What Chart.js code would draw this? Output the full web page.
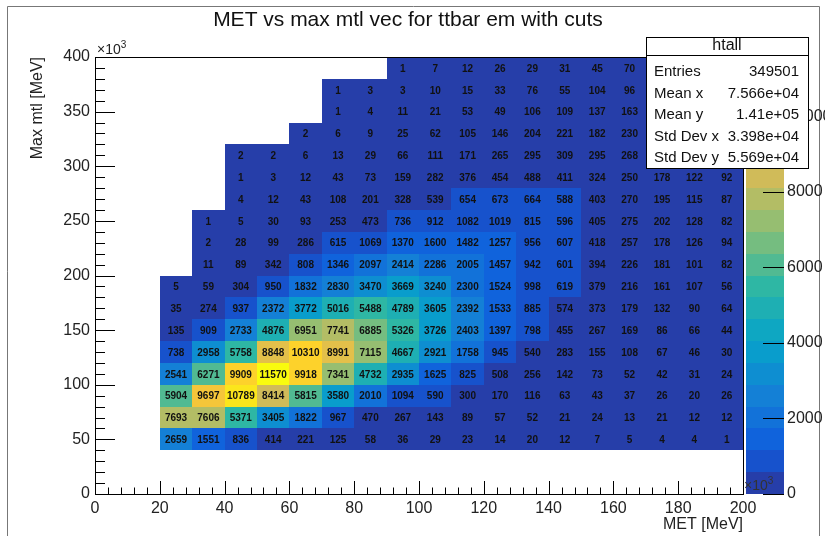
<!DOCTYPE html>
<html>
<head>
<meta charset="utf-8">
<script src="https://cdn.jsdelivr.net/npm/chart.js@4"></script>
<style>
  body { margin: 0; background: #fff; }
  canvas { display: block; }
</style>
</head>
<body>
<canvas id="h2" width="825" height="536"></canvas>
<script>
// MET (x) vs max mtl (y), both x10^3 MeV, bins of 10 in x and 20 in y
const binW = 10, binH = 20;
const yCenters = [50, 70, 90, 110, 130, 150, 170, 190, 210, 230, 250, 270, 290, 310, 330, 350, 370, 390];
// first filled MET bin centre for each row
const rowStart = [25, 25, 25, 25, 25, 25, 25, 25, 35, 35, 35, 45, 45, 45, 65, 75, 75, 95];
const counts = [
  [2659, 1551, 836, 414, 221, 125, 58, 36, 29, 23, 14, 20, 12, 7, 5, 4, 4, 1],
  [7693, 7606, 5371, 3405, 1822, 967, 470, 267, 143, 89, 57, 52, 21, 24, 13, 21, 12, 12],
  [5904, 9697, 10789, 8414, 5815, 3580, 2010, 1094, 590, 300, 170, 116, 63, 43, 37, 26, 20, 26],
  [2541, 6271, 9909, 11570, 9918, 7341, 4732, 2935, 1625, 825, 508, 256, 142, 73, 52, 42, 31, 24],
  [738, 2958, 5758, 8848, 10310, 8991, 7115, 4667, 2921, 1758, 945, 540, 283, 155, 108, 67, 46, 30],
  [135, 909, 2733, 4876, 6951, 7741, 6885, 5326, 3726, 2403, 1397, 798, 455, 267, 169, 86, 66, 44],
  [35, 274, 937, 2372, 3772, 5016, 5488, 4789, 3605, 2392, 1533, 885, 574, 373, 179, 132, 90, 64],
  [5, 59, 304, 950, 1832, 2830, 3470, 3669, 3240, 2300, 1524, 998, 619, 379, 216, 161, 107, 56],
  [11, 89, 342, 808, 1346, 2097, 2414, 2286, 2005, 1457, 942, 601, 394, 226, 181, 101, 82],
  [2, 28, 99, 286, 615, 1069, 1370, 1600, 1482, 1257, 956, 607, 418, 257, 178, 126, 94],
  [1, 5, 30, 93, 253, 473, 736, 912, 1082, 1019, 815, 596, 405, 275, 202, 128, 82],
  [4, 12, 43, 108, 201, 328, 539, 654, 673, 664, 588, 403, 270, 195, 115, 87],
  [1, 3, 12, 43, 73, 159, 282, 376, 454, 488, 411, 324, 250, 178, 122, 92],
  // last bins of the rows below sit under the stats box (estimated)
  [2, 2, 6, 13, 29, 66, 111, 171, 265, 295, 309, 295, 268, 200, 150, 100],
  [2, 6, 9, 25, 62, 105, 146, 204, 221, 182, 230, 170, 130, 90],
  [1, 4, 11, 21, 53, 49, 106, 109, 137, 163, 130, 100, 70],
  [1, 3, 3, 10, 15, 33, 76, 55, 104, 96, 90, 70, 50],
  [1, 7, 12, 26, 29, 31, 45, 70, 60, 50, 35]
];
const xTicks = [0, 20, 40, 60, 80, 100, 120, 140, 160, 180, 200];
const yTicks = [0, 50, 100, 150, 200, 250, 300, 350, 400];
const zTicks = [0, 2000, 4000, 6000, 8000, 10000];
const zMax = 11570, nCont = 20;
const statLabels = ["Entries", "Mean x", "Mean y", "Std Dev x", "Std Dev y"];
const statValues = ["349501", "7.566e+04", "1.41e+05", "3.398e+04", "5.569e+04"];

// kBird palette
const stops = [0.0, 0.125, 0.25, 0.375, 0.5, 0.625, 0.75, 0.875, 1.0];
const red   = [0.2082, 0.0592, 0.0780, 0.0232, 0.1802, 0.5301, 0.8186, 0.9956, 0.9764];
const green = [0.1664, 0.3599, 0.5041, 0.6419, 0.7178, 0.7492, 0.7328, 0.7862, 0.9832];
const blue  = [0.5293, 0.8684, 0.8385, 0.7914, 0.6425, 0.4662, 0.3499, 0.1968, 0.0539];
function bird(f) {
  let i = 0;
  while (i < stops.length - 2 && f > stops[i + 1]) i++;
  const t = (f - stops[i]) / (stops[i + 1] - stops[i]);
  const c = a => Math.round(255 * (a[i] + (a[i + 1] - a[i]) * t));
  return `rgb(${c(red)},${c(green)},${c(blue)})`;
}
function bandColor(k) {
  return bird(Math.min(1, (k + 0.99) / nCont));
}
function cellColor(v) {
  let k = Math.floor(v / (zMax / nCont));
  if (k > nCont - 1) k = nCont - 1;
  return bandColor(k);
}

const cells = [];
counts.forEach((row, r) => {
  row.forEach((v, c) => {
    cells.push({ x: rowStart[r] + c * binW, y: yCenters[r], v: v });
  });
});

const FONT = '"Liberation Sans", Arial, sans-serif';

const th2Plugin = {
  id: 'th2',
  beforeDatasetsDraw(chart) {
    const ctx = chart.ctx, xs = chart.scales.x, ys = chart.scales.y;
    ctx.save();
    // cells
    chart.data.datasets[0].data.forEach(p => {
      const x0 = Math.round(xs.getPixelForValue(p.x - binW / 2));
      const x1 = Math.round(xs.getPixelForValue(p.x + binW / 2));
      const y0 = Math.round(ys.getPixelForValue(p.y + binH / 2));
      const y1 = Math.round(ys.getPixelForValue(p.y - binH / 2));
      ctx.fillStyle = cellColor(p.v);
      ctx.fillRect(x0, y0, x1 - x0, y1 - y0);
    });
    // numbers
    ctx.font = 'bold 10px ' + FONT;
    ctx.fillStyle = '#111';
    ctx.textAlign = 'center';
    ctx.textBaseline = 'middle';
    chart.data.datasets[0].data.forEach(p => {
      ctx.fillText(String(p.v), xs.getPixelForValue(p.x), ys.getPixelForValue(p.y) + 1);
    });
    ctx.restore();
  },
  afterDraw(chart) {
    const ctx = chart.ctx, xs = chart.scales.x, ys = chart.scales.y, zs = chart.scales.z;
    const a = chart.chartArea;
    ctx.save();

    // page border
    ctx.strokeStyle = '#777';
    ctx.lineWidth = 1;
    ctx.beginPath();
    ctx.moveTo(7.5, 536); ctx.lineTo(7.5, 6.5); ctx.lineTo(819.5, 6.5); ctx.lineTo(819.5, 536);
    ctx.stroke();

    // frame
    ctx.strokeStyle = '#000';
    ctx.strokeRect(a.left + 0.5, a.top + 0.5, a.right - a.left, a.bottom - a.top);

    // x ticks
    ctx.beginPath();
    for (let v = 0; v <= 200; v += 4) {
      const px = Math.round(xs.getPixelForValue(v)) + 0.5;
      const len = v % 20 === 0 ? 13 : 6.5;
      ctx.moveTo(px, a.bottom); ctx.lineTo(px, a.bottom - len);
    }
    // y ticks
    for (let v = 0; v <= 400; v += 10) {
      const py = Math.round(ys.getPixelForValue(v)) + 0.5;
      const len = v % 50 === 0 ? 20 : 10;
      ctx.moveTo(a.left, py); ctx.lineTo(a.left + len, py);
    }
    ctx.stroke();

    ctx.fillStyle = '#222';
    ctx.font = '16px ' + FONT;
    ctx.textAlign = 'center';
    ctx.textBaseline = 'top';
    xTicks.forEach(v => ctx.fillText(String(v), xs.getPixelForValue(v), a.bottom + 7));
    ctx.textAlign = 'right';
    ctx.textBaseline = 'middle';
    yTicks.forEach(v => ctx.fillText(String(v), a.left - 5, ys.getPixelForValue(v)));

    // x10^3 exponents
    const exp10 = (x, y) => {
      ctx.textAlign = 'left';
      ctx.textBaseline = 'alphabetic';
      ctx.font = '14px ' + FONT;
      ctx.fillText('\u00d710', x, y);
      const w = ctx.measureText('\u00d710').width;
      ctx.font = '10px ' + FONT;
      ctx.fillText('3', x + w, y - 6);
    };
    exp10(a.left + 2, a.top - 3);

    // axis titles
    ctx.font = '16px ' + FONT;
    ctx.textAlign = 'right';
    ctx.textBaseline = 'alphabetic';
    ctx.fillText('MET [MeV]', a.right, 529);
    ctx.save();
    ctx.translate(42, a.top);
    ctx.rotate(-Math.PI / 2);
    ctx.textAlign = 'right';
    ctx.fillText('Max mtl [MeV]', 0, 0);
    ctx.restore();

    // title
    ctx.font = '21px ' + FONT;
    ctx.textAlign = 'center';
    ctx.fillStyle = '#111';
    ctx.fillText('MET vs max mtl vec for ttbar em with cuts', 408, 26);

    // colour bar
    const cbL = 746, cbR = 784;
    for (let k = 0; k < nCont; k++) {
      const yTop = Math.round(zs.getPixelForValue((k + 1) * zMax / nCont));
      const yBot = Math.round(zs.getPixelForValue(k * zMax / nCont));
      ctx.fillStyle = bandColor(k);
      ctx.fillRect(cbL, yTop, cbR - cbL, yBot - yTop);
    }
    ctx.strokeStyle = '#000';
    ctx.beginPath();
    zTicks.forEach(v => {
      const py = Math.round(zs.getPixelForValue(v)) + 0.5;
      ctx.moveTo(cbR, py); ctx.lineTo(cbR - 21, py);
    });
    ctx.stroke();
    ctx.fillStyle = '#222';
    ctx.font = '16px ' + FONT;
    ctx.textAlign = 'left';
    ctx.textBaseline = 'middle';
    zTicks.forEach(v => ctx.fillText(String(v), cbR + 3, zs.getPixelForValue(v)));

    ctx.fillStyle = '#333';
    exp10(a.right + 1, a.bottom - 4);

    // stats box
    const bx = 646, by = 37, bw = 162, bh = 131;
    ctx.fillStyle = '#fff';
    ctx.fillRect(bx, by, bw, bh);
    ctx.strokeStyle = '#000';
    ctx.strokeRect(bx + 0.5, by + 0.5, bw, bh);
    ctx.beginPath();
    ctx.moveTo(bx, 55.5); ctx.lineTo(bx + bw, 55.5);
    ctx.stroke();
    ctx.fillStyle = '#111';
    ctx.textBaseline = 'middle';
    ctx.font = '16px ' + FONT;
    ctx.textAlign = 'center';
    ctx.fillText('htall', bx + bw / 2, 46);
    ctx.font = '15px ' + FONT;
    statLabels.forEach((s, i) => {
      const py = 72 + i * 21.5;
      ctx.textAlign = 'left';
      ctx.fillText(s, 654, py);
      ctx.textAlign = 'right';
      ctx.fillText(statValues[i], 799, py);
    });
    ctx.restore();
  }
};

new Chart(document.getElementById('h2'), {
  type: 'scatter',
  data: { datasets: [{ data: cells, pointRadius: 0, pointHoverRadius: 0 }] },
  options: {
    responsive: false,
    animation: false,
    events: [],
    layout: { padding: { left: 95, top: 57, right: 82, bottom: 42 } },
    plugins: { legend: { display: false }, tooltip: { enabled: false } },
    scales: {
      x: { type: 'linear', min: 0, max: 200, display: false },
      y: { type: 'linear', min: 0, max: 400, display: false },
      z: { type: 'linear', axis: 'y', position: 'right', min: 0, max: zMax, display: false }
    }
  },
  plugins: [th2Plugin]
});
</script>
</body>
</html>
